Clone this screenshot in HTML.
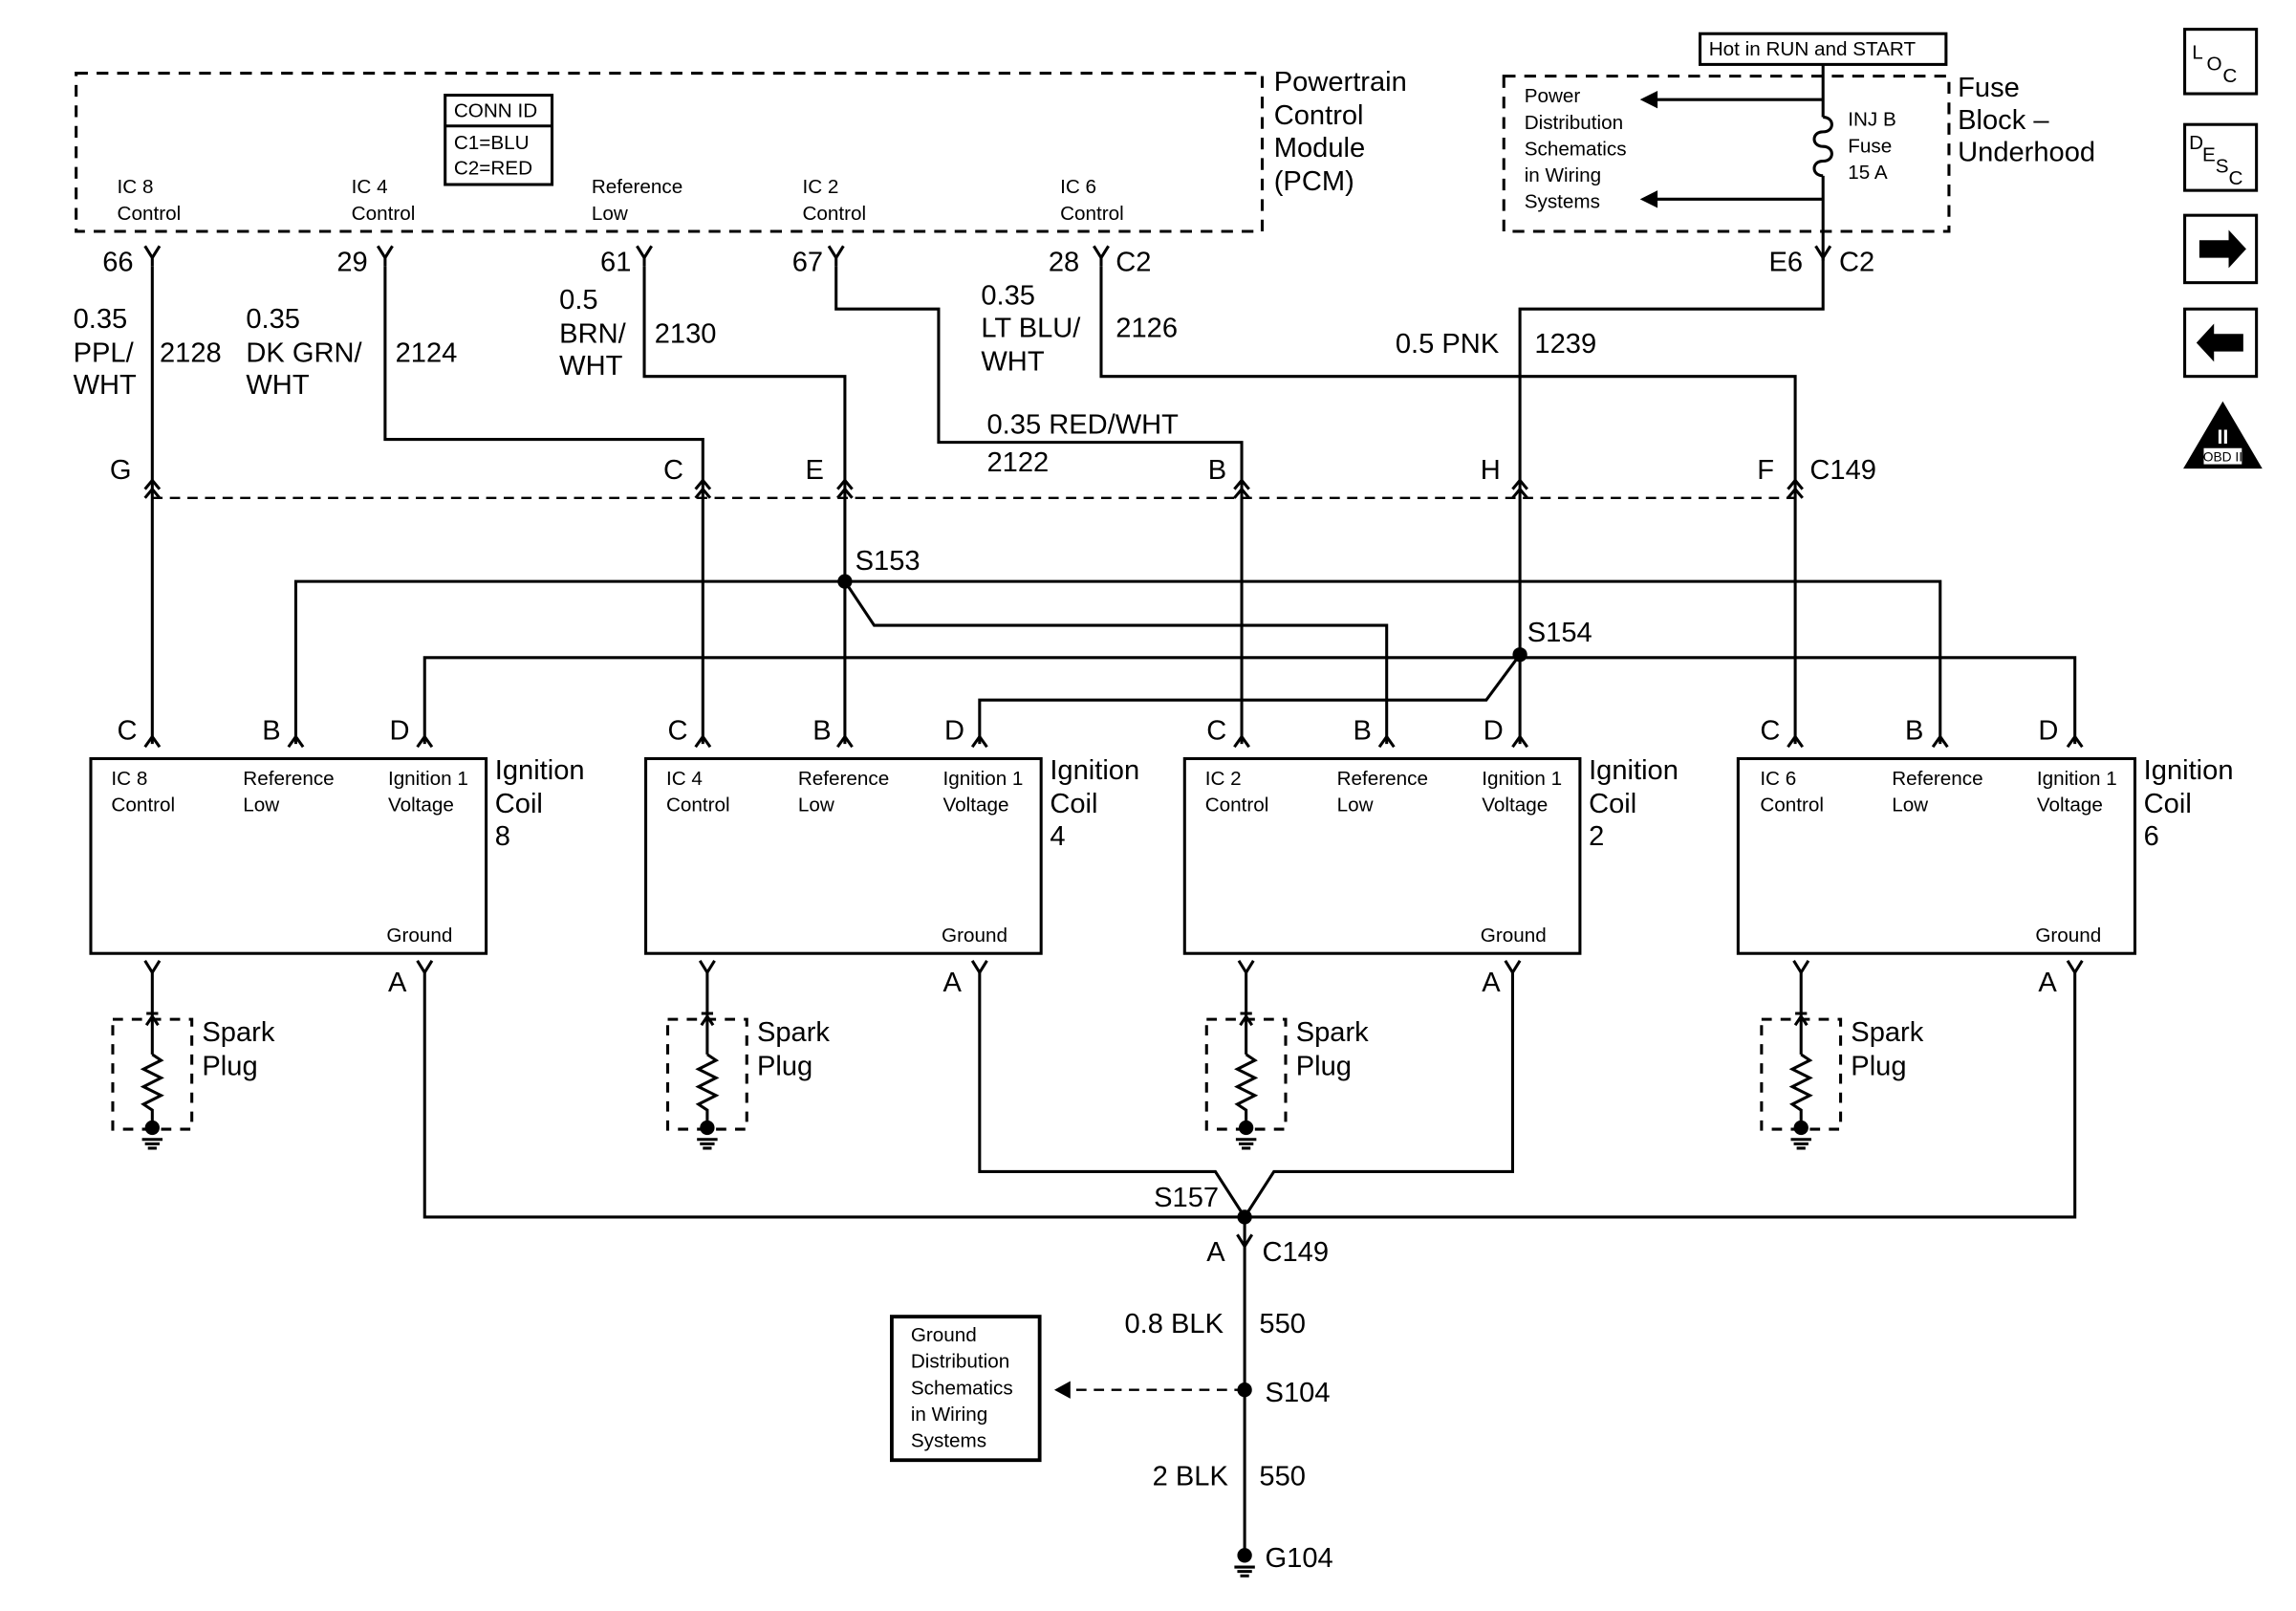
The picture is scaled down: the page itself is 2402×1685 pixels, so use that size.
<!DOCTYPE html>
<html><head><meta charset="utf-8"><style>
html,body{margin:0;padding:0;background:#fff}
svg{display:block}
text{font-family:"Liberation Sans",Arial,sans-serif;fill:#000}
.b{font-size:19px}.s{font-size:13.5px}
</style></head><body>
<svg width="2402" height="1685" viewBox="0 0 1568 1100" preserveAspectRatio="none" xmlns="http://www.w3.org/2000/svg">
<g fill="none" stroke="#000" stroke-width="2">
<rect x="52" y="50" width="810" height="108" stroke-dasharray="8,6"/>
<rect x="304" y="65" width="73" height="61"/><line x1="304" y1="86" x2="377" y2="86"/>
<rect x="1027" y="52" width="304" height="106" stroke-dasharray="8,6"/>
<rect x="1161" y="23" width="168" height="21"/>
<path d="M1245 44V80 M1245 120V178 M1245 80c8 0 8 10 0 10s-8 10 0 10 8 10 0 10-8 10 0 10"/>
<path d="M1245 68H1124 M1245 136H1124"/>
<path d="M99 168L104 176L109 168 M104 176V182 M258 168L263 176L268 168 M263 176V182 M435 168L440 176L445 168 M440 176V182 M566 168L571 176L576 168 M571 176V182 M747 168L752 176L757 168 M752 176V182 M1240 168L1245 176L1250 168"/>
<path d="M104 182V508"/>
<path d="M263 182V300H480V508"/>
<path d="M440 182V257H577V508"/>
<path d="M571 182V211H641V302H848V508"/>
<path d="M752 182V257H1226V508"/>
<path d="M1245 176V211H1038V508"/>
<line x1="104" y1="340" x2="1226" y2="340" stroke-dasharray="7,5" stroke-width="1.5"/>
<path d="M202 508V397H1325V508"/>
<path d="M577 397L597 427H947V508"/>
<path d="M290 508V449H1417V508"/>
<path d="M1038 447L1015 478H669V508"/>
<path d="M99 334L104 328L109 334M99 340L104 334L109 340 M475 334L480 328L485 334M475 340L480 334L485 340 M572 334L577 328L582 334M572 340L577 334L582 340 M843 334L848 328L853 334M843 340L848 334L853 340 M1033 334L1038 328L1043 334M1033 340L1038 334L1043 340 M1221 334L1226 328L1231 334M1221 340L1226 334L1231 340"/>
<path d="M99 510L104 503L109 510 M197 510L202 503L207 510 M285 510L290 503L295 510 M475 510L480 503L485 510 M572 510L577 503L582 510 M664 510L669 503L674 510 M843 510L848 503L853 510 M942 510L947 503L952 510 M1033 510L1038 503L1043 510 M1221 510L1226 503L1231 510 M1320 510L1325 503L1330 510 M1412 510L1417 503L1422 510"/>
<rect x="62" y="518" width="270" height="133"/>
<rect x="441" y="518" width="270" height="133"/>
<rect x="809" y="518" width="270" height="133"/>
<rect x="1187" y="518" width="271" height="133"/>
<path d="M99 656L104 664L109 656 M285 656L290 664L295 656 M478 656L483 664L488 656 M664 656L669 664L674 656 M846 656L851 664L856 656 M1028 656L1033 664L1038 656 M1225 656L1230 664L1235 656 M1412 656L1417 664L1422 656"/>
<g id="sp">
<rect x="77" y="696" width="54" height="75" stroke-dasharray="7,6"/>
<path d="M104 664V720 M100 692H108 M100 700L104 694L108 700 M104 720l6 4-12 6 12 6-12 6 12 6-12 6 6 4V770 M97 778H111M99 781H109M101 784H107"/>
</g>
<use href="#sp" x="379"/><use href="#sp" x="747"/><use href="#sp" x="1126"/>
<path d="M290 664V831H1417V664"/>
<path d="M669 664V800H830L850 831L870 800H1033V664"/>
<path d="M850 831V1062"/>
<path d="M845 843L850 851L855 843"/>
<line x1="850" y1="949" x2="732" y2="949" stroke-dasharray="7,5" stroke-width="1.5"/>
<rect x="609" y="899" width="101" height="98" stroke-width="2.5"/>
<path d="M843 1070H857M845 1073H855M847 1076H853"/>
<rect x="1492" y="20" width="49" height="44"/>
<rect x="1492" y="85" width="49" height="45"/>
<rect x="1492" y="147" width="49" height="46"/>
<rect x="1492" y="211" width="49" height="46"/>
</g>
<g fill="#000">
<path d="M1120 68l12-6v12z M1120 136l12-6v12z M720 949l11-6v12z"/>
<circle cx="577" cy="397" r="5"/><circle cx="1038" cy="447" r="5"/>
<circle cx="850" cy="831" r="5"/><circle cx="850" cy="949" r="5"/><circle cx="850" cy="1062" r="5"/>
<circle cx="104" cy="770" r="5"/><circle cx="483" cy="770" r="5"/><circle cx="851" cy="770" r="5"/><circle cx="1230" cy="770" r="5"/>
<path d="M1502 164h20v-7l12 13-12 13v-7h-20z"/>
<path d="M1532 228h-20v-7l-12 13 12 13v-7h20z"/>
<path d="M1518 274l27 46h-54z"/>
</g>
<rect x="1505" y="306" width="26" height="11" fill="#fff"/>
<text x="1518" y="315" class="s" style="font-size:9px" text-anchor="middle">OBD II</text>
<text x="1518" y="303" style="font-size:14px;fill:#fff;font-weight:bold" text-anchor="middle">II</text>
<text x="1497" y="40" class="s">L</text><text x="1507" y="48" class="s">O</text><text x="1518" y="56" class="s">C</text>
<text x="1495" y="102" class="s">D</text><text x="1504" y="110" class="s">E</text><text x="1513" y="118" class="s">S</text><text x="1522" y="126" class="s">C</text>
<text class="b"><tspan x="870" y="62">Powertrain</tspan><tspan x="870" y="85">Control</tspan><tspan x="870" y="107">Module</tspan><tspan x="870" y="130">(PCM)</tspan></text>
<text class="s"><tspan x="310" y="80">CONN ID</tspan><tspan x="310" y="102">C1=BLU</tspan><tspan x="310" y="119">C2=RED</tspan></text>
<text class="s"><tspan x="80" y="132">IC 8</tspan><tspan x="80" y="150">Control</tspan></text>
<text class="s"><tspan x="240" y="132">IC 4</tspan><tspan x="240" y="150">Control</tspan></text>
<text class="s"><tspan x="404" y="132">Reference</tspan><tspan x="404" y="150">Low</tspan></text>
<text class="s"><tspan x="548" y="132">IC 2</tspan><tspan x="548" y="150">Control</tspan></text>
<text class="s"><tspan x="724" y="132">IC 6</tspan><tspan x="724" y="150">Control</tspan></text>
<text class="s" x="1167" y="38">Hot in RUN and START</text>
<text class="s"><tspan x="1041" y="70">Power</tspan><tspan x="1041" y="88">Distribution</tspan><tspan x="1041" y="106">Schematics</tspan><tspan x="1041" y="124">in Wiring</tspan><tspan x="1041" y="142">Systems</tspan></text>
<text class="s"><tspan x="1262" y="86">INJ B</tspan><tspan x="1262" y="104">Fuse</tspan><tspan x="1262" y="122">15 A</tspan></text>
<text class="b"><tspan x="1337" y="66">Fuse</tspan><tspan x="1337" y="88">Block –</tspan><tspan x="1337" y="110">Underhood</tspan></text>
<text class="b" x="70" y="185">66</text><text class="b" x="230" y="185">29</text><text class="b" x="410" y="185">61</text><text class="b" x="541" y="185">67</text><text class="b" x="716" y="185">28</text><text class="b" x="762" y="185">C2</text>
<text class="b" x="1208" y="185">E6</text><text class="b" x="1256" y="185">C2</text>
<text class="b"><tspan x="50" y="224">0.35</tspan><tspan x="50" y="247">PPL/</tspan><tspan x="50" y="269">WHT</tspan></text><text class="b" x="109" y="247">2128</text>
<text class="b"><tspan x="168" y="224">0.35</tspan><tspan x="168" y="247">DK GRN/</tspan><tspan x="168" y="269">WHT</tspan></text><text class="b" x="270" y="247">2124</text>
<text class="b"><tspan x="382" y="211">0.5</tspan><tspan x="382" y="234">BRN/</tspan><tspan x="382" y="256">WHT</tspan></text><text class="b" x="447" y="234">2130</text>
<text class="b"><tspan x="670" y="208">0.35</tspan><tspan x="670" y="230">LT BLU/</tspan><tspan x="670" y="253">WHT</tspan></text><text class="b" x="762" y="230">2126</text>
<text class="b" x="674" y="296">0.35 RED/WHT</text><text class="b" x="674" y="322">2122</text>
<text class="b" x="953" y="241">0.5 PNK</text><text class="b" x="1048" y="241">1239</text>
<text class="b" x="75" y="327">G</text><text class="b" x="453" y="327">C</text><text class="b" x="550" y="327">E</text><text class="b" x="825" y="327">B</text><text class="b" x="1011" y="327">H</text><text class="b" x="1200" y="327">F</text><text class="b" x="1236" y="327">C149</text>
<text class="b" x="584" y="389">S153</text><text class="b" x="1043" y="438">S154</text>
<text class="b" x="80" y="505">C</text><text class="b" x="179" y="505">B</text><text class="b" x="266" y="505">D</text>
<text class="b" x="456" y="505">C</text><text class="b" x="555" y="505">B</text><text class="b" x="645" y="505">D</text>
<text class="b" x="824" y="505">C</text><text class="b" x="924" y="505">B</text><text class="b" x="1013" y="505">D</text>
<text class="b" x="1202" y="505">C</text><text class="b" x="1301" y="505">B</text><text class="b" x="1392" y="505">D</text>
<g>
<text class="s"><tspan x="76" y="536">IC 8</tspan><tspan x="76" y="554">Control</tspan></text>
<text class="s"><tspan x="166" y="536">Reference</tspan><tspan x="166" y="554">Low</tspan></text>
<text class="s"><tspan x="265" y="536">Ignition 1</tspan><tspan x="265" y="554">Voltage</tspan></text>
<text class="s" x="264" y="643">Ground</text>
</g>
<g transform="translate(379,0)"><text class="s"><tspan x="76" y="536">IC 4</tspan><tspan x="76" y="554">Control</tspan></text><text class="s"><tspan x="166" y="536">Reference</tspan><tspan x="166" y="554">Low</tspan></text><text class="s"><tspan x="265" y="536">Ignition 1</tspan><tspan x="265" y="554">Voltage</tspan></text><text class="s" x="264" y="643">Ground</text></g>
<g transform="translate(747,0)"><text class="s"><tspan x="76" y="536">IC 2</tspan><tspan x="76" y="554">Control</tspan></text><text class="s"><tspan x="166" y="536">Reference</tspan><tspan x="166" y="554">Low</tspan></text><text class="s"><tspan x="265" y="536">Ignition 1</tspan><tspan x="265" y="554">Voltage</tspan></text><text class="s" x="264" y="643">Ground</text></g>
<g transform="translate(1126,0)"><text class="s"><tspan x="76" y="536">IC 6</tspan><tspan x="76" y="554">Control</tspan></text><text class="s"><tspan x="166" y="536">Reference</tspan><tspan x="166" y="554">Low</tspan></text><text class="s"><tspan x="265" y="536">Ignition 1</tspan><tspan x="265" y="554">Voltage</tspan></text><text class="s" x="264" y="643">Ground</text></g>
<text class="b"><tspan x="338" y="532">Ignition</tspan><tspan x="338" y="555">Coil</tspan><tspan x="338" y="577">8</tspan></text>
<text class="b"><tspan x="717" y="532">Ignition</tspan><tspan x="717" y="555">Coil</tspan><tspan x="717" y="577">4</tspan></text>
<text class="b"><tspan x="1085" y="532">Ignition</tspan><tspan x="1085" y="555">Coil</tspan><tspan x="1085" y="577">2</tspan></text>
<text class="b"><tspan x="1464" y="532">Ignition</tspan><tspan x="1464" y="555">Coil</tspan><tspan x="1464" y="577">6</tspan></text>
<text class="b" x="265" y="677">A</text><text class="b" x="644" y="677">A</text><text class="b" x="1012" y="677">A</text><text class="b" x="1392" y="677">A</text>
<text class="b"><tspan x="138" y="711">Spark</tspan><tspan x="138" y="734">Plug</tspan></text>
<text class="b"><tspan x="517" y="711">Spark</tspan><tspan x="517" y="734">Plug</tspan></text>
<text class="b"><tspan x="885" y="711">Spark</tspan><tspan x="885" y="734">Plug</tspan></text>
<text class="b"><tspan x="1264" y="711">Spark</tspan><tspan x="1264" y="734">Plug</tspan></text>
<text class="b" x="788" y="824">S157</text>
<text class="b" x="824" y="861">A</text><text class="b" x="862" y="861">C149</text>
<text class="b" x="768" y="910">0.8 BLK</text><text class="b" x="860" y="910">550</text>
<text class="b" x="864" y="957">S104</text>
<text class="b" x="787" y="1014">2 BLK</text><text class="b" x="860" y="1014">550</text>
<text class="b" x="864" y="1070">G104</text>
<text class="s"><tspan x="622" y="916">Ground</tspan><tspan x="622" y="934">Distribution</tspan><tspan x="622" y="952">Schematics</tspan><tspan x="622" y="970">in Wiring</tspan><tspan x="622" y="988">Systems</tspan></text>
</svg>
</body></html>
